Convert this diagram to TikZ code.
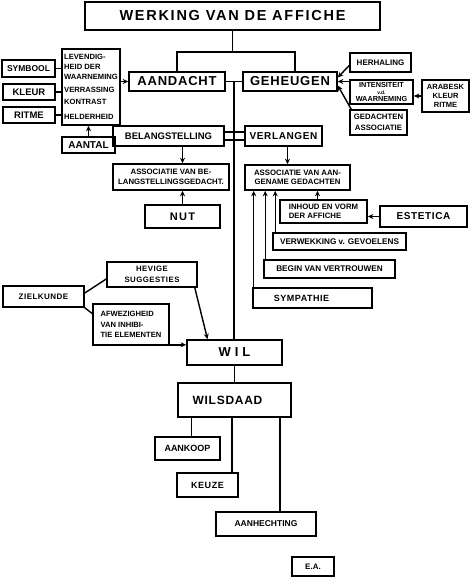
\documentclass[tikz,border=0pt]{standalone}
\usepackage{fontspec}
\setmainfont{Liberation Sans}
\newfontfamily\lsA{Liberation Sans}[LetterSpace=12]
\newfontfamily\lsB{Liberation Sans}[LetterSpace=30]
\newfontfamily\lsC{Liberation Sans}[LetterSpace=6]
\usetikzlibrary{arrows.meta,calc}
\newcommand{\bx}[7][]{\node[box,#1, minimum width={(#4)-(#2)}, minimum height={(#5)-(#3)}] (#7) at ({((#2)+(#4))/2},{((#3)+(#5))/2}) {#6};}
\newcommand{\fs}[1]{\fontsize{#1}{#1}\selectfont}
\newcommand{\fsl}[2]{\fontsize{#1}{#2}\selectfont}
\tikzset{
  box/.style={draw, line width=1.6pt, inner sep=0pt, align=center, font=\bfseries},
  con/.style={line width=1.4pt},
  arr/.style={line width=1.4pt, -{Stealth[length=5.5pt,width=5pt]}},
  small/.style={font=\bfseries\fsl{7.8}{9.5}},
}
\begin{document}
\begin{tikzpicture}[x=1pt,y=-1pt]
\useasboundingbox (0,0) rectangle (470,577);
% boxes
\bx[font=\lsA\bfseries\fs{14.5}]{85}{2}{380}{30}{WERKING VAN DE AFFICHE}{title}
\bx[font=\lsC\bfseries\fs{13}]{129}{72}{225}{91}{AANDACHT}{aandacht}
\bx[font=\lsC\bfseries\fs{13}]{243}{72}{337}{91}{GEHEUGEN}{geheugen}
\bx[font=\bfseries\fsl{7.6}{10},align=left]{62}{49}{120}{125}{LEVENDIG-\\HEID DER\\WAARNEMING\\[3pt]VERRASSING\\[2pt]KONTRAST\\[5pt]HELDERHEID}{lev}
\bx[font=\bfseries\fs{8.5}]{2}{60}{55}{77}{SYMBOOL}{symbool}
\bx[font=\bfseries\fs{9.5}]{3}{84}{55}{100}{KLEUR}{kleur}
\bx[font=\bfseries\fs{9.5}]{3}{107}{55}{123}{RITME}{ritme}
\bx[font=\bfseries\fs{10}]{62}{137}{115}{153}{AANTAL}{aantal}
\bx[font=\bfseries\fs{8}]{350}{53}{411}{72}{HERHALING}{herhaling}
\bx[font=\bfseries\fsl{7.3}{6.8}]{350}{80}{413}{104}{INTENSITEIT\\{\fs{5}v.d.}\\WAARNEMING}{intens}
\bx[font=\bfseries\fsl{7.5}{9}]{422}{80}{469}{112}{ARABESK\\KLEUR\\RITME}{arabesk}
\bx[font=\bfseries\fsl{7.8}{11}]{350}{110}{407}{135}{GEDACHTEN\\ASSOCIATIE}{gedachten}
\bx[font=\bfseries\fs{9.5}]{113}{126}{224}{146}{BELANGSTELLING}{belang}
\bx[font=\lsC\bfseries\fs{10}]{245}{126}{322}{146}{VERLANGEN}{verlangen}
\bx[small]{113}{164}{229}{190}{ASSOCIATIE VAN BE-\\LANGSTELLINGSGEDACHT.}{assocB}
\bx[font=\lsA\bfseries\fs{11}]{145}{205}{220}{228}{NUT}{nut}
\bx[small]{245}{165}{350}{190}{ASSOCIATIE VAN AAN-\\GENAME GEDACHTEN}{assocA}
\bx[small,align=left]{280}{200}{367}{223}{INHOUD EN VORM\\DER AFFICHE}{inhoud}
\bx[font=\lsC\bfseries\fs{10}]{380}{206}{467}{227}{ESTETICA}{estetica}
\bx[font=\bfseries\fs{8.2}]{273}{233}{406}{250}{VERWEKKING v. GEVOELENS}{verwekking}
\bx[font=\bfseries\fs{8.2}]{264}{260}{395}{278}{BEGIN VAN VERTROUWEN}{begin}
\bx[font=\lsC\bfseries\fs{9}]{253}{288}{372}{308}{SYMPATHIE\hspace{22pt}}{sympathie}
\bx[font=\lsC\bfseries\fs{8}]{3}{286}{84}{307}{ZIELKUNDE}{zielkunde}
\bx[font=\lsC\bfseries\fsl{7.8}{11}]{107}{262}{197}{287}{HEVIGE\\SUGGESTIES}{hevige}
\bx[font=\bfseries\fsl{7.6}{10.5},align=left]{93}{304}{169}{345}{AFWEZIGHEID\\VAN INHIBI-\\TIE ELEMENTEN}{afwez}
\bx[font=\lsB\bfseries\fs{13}]{187}{340}{282}{365}{WIL}{wil}
\bx[font=\lsC\bfseries\fs{12}]{178}{383}{291}{417}{WILSDAAD\hspace{14pt}}{wilsdaad}
\bx[font=\bfseries\fs{9}]{155}{437}{220}{460}{AANKOOP}{aankoop}
\bx[font=\lsC\bfseries\fs{9}]{177}{473}{238}{497}{KEUZE}{keuze}
\bx[font=\bfseries\fs{8.5}]{216}{512}{316}{536}{AANHECHTING}{aanhechting}
\bx[font=\bfseries\fs{8}]{292}{557}{334}{576}{E.A.}{ea}
% connectors
\coordinate (j1) at (title.south |- 0,52);
\draw[con] (title.south) -- (j1);
\draw[con] (aandacht.north) |- (j1) -| ([xshift=5pt]geheugen.north);
\draw[con] (aandacht.east) -- (geheugen.west);
\coordinate (sp) at ($(aandacht.east)!0.5!(geheugen.west)$);
\draw[con] (sp) -- (sp |- wil.north);
\draw[con] ([yshift=4pt]belang.east) -- ([yshift=4pt]belang.east -| verlangen.west);
\draw[con] ([yshift=-4pt]belang.east) -- ([yshift=-4pt]belang.east -| verlangen.west);
\draw[arr] (lev.east |- aandacht.west) -- (aandacht.west);
\draw[con] (symbool.east) -- (symbool.east -| lev.west);
\draw[con] (kleur.east) -- (kleur.east -| lev.west);
\draw[con] (ritme.east) -- (ritme.east -| lev.west);
\draw[arr] (aantal.north) -- (aantal.north |- lev.south);
\draw[arr] ([yshift=-3pt]herhaling.west) -- ([yshift=4pt]geheugen.east);
\draw[arr] (geheugen.east -| intens.west) -- (geheugen.east);
\draw[arr] ([xshift=2pt]gedachten.north west) -- ([yshift=-4pt]geheugen.east);
\draw[arr] (arabesk.west) -- (arabesk.west -| intens.east);
\draw[arr] (belang.south -| nut.north) -- (assocB.north -| nut.north);
\draw[arr] (nut.north) -- (nut.north |- assocB.south);
\draw[arr] ([xshift=4pt]verlangen.south) -- ([xshift=4pt]verlangen.south |- assocA.north);
\draw[arr] ([xshift=-6pt]inhoud.north) -- ([xshift=-6pt]inhoud.north |- assocA.south);
\draw[arr] (estetica.west) -- (estetica.west -| inhoud.east);
\draw[arr] ([xshift=3pt]verwekking.north west) -- ([xshift=3pt]verwekking.north west |- assocA.south);
\draw[arr] ([xshift=2pt]begin.north west) -- ([xshift=2pt]begin.north west |- assocA.south);
\draw[arr] ([xshift=1.5pt]sympathie.north west) -- ([xshift=1.5pt]sympathie.north west |- assocA.south);
\draw[con] ([yshift=3.5pt]zielkunde.east) -- ([yshift=-4.5pt]hevige.west);
\draw[con] (zielkunde.south east) -- ([yshift=11pt]afwez.west);
\draw[arr] ([xshift=-3pt]hevige.south east) -- ([xshift=-27pt]wil.north);
\draw[arr] ([yshift=1pt]afwez.south east) -- ([yshift=1pt]afwez.south east -| wil.west);
\draw[con] (wil.south) -- (wilsdaad.north);
\draw[con] ([xshift=4pt]aankoop.north) -- ([xshift=4pt]aankoop.north |- wilsdaad.south);
\draw[con] ([xshift=-7pt]keuze.north east) -- ([xshift=-7pt]keuze.north east |- wilsdaad.south);
\draw[con] ([xshift=14pt]aanhechting.north) -- ([xshift=14pt]aanhechting.north |- wilsdaad.south);
\end{tikzpicture}
\end{document}
